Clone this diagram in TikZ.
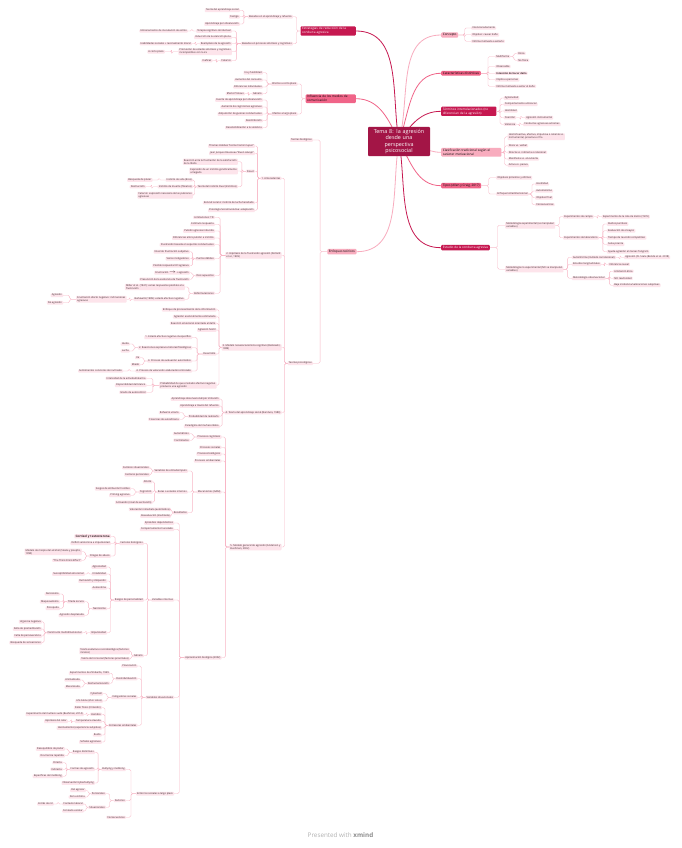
\documentclass[tikz,border=0pt]{standalone}
\usepackage{fontspec}
\setmainfont{Open Sans}
\usetikzlibrary{calc,backgrounds}

\definecolor{rootc}{RGB}{163,21,70}
\definecolor{darkc}{RGB}{198,24,80}
\definecolor{midc}{RGB}{240,100,136}
\definecolor{lightc}{RGB}{248,172,190}
\definecolor{leafc}{RGB}{253,228,235}
\definecolor{lnc}{RGB}{248,182,198}
\definecolor{txtc}{RGB}{60,40,45}

\tikzset{
  leaf/.style={fill=leafc,text=txtc,rounded corners=.8pt,inner xsep=1.1pt,inner ysep=.6pt,
    align=left,font=\fontsize{2.5}{3}\selectfont},
  L/.style={leaf,anchor=east},
  R/.style={leaf,anchor=west},
  mainbox/.style={rounded corners=1pt,inner xsep=1.6pt,inner ysep=1.2pt,align=left,
    font=\fontsize{3.1}{3.8}\selectfont},
  mainD/.style={mainbox,fill=darkc,text=white},
  mainM/.style={mainbox,fill=midc,text=black},
  mainL/.style={mainbox,fill=lightc,text=black},
  br/.style={draw=lnc,line width=.35pt,rounded corners=1.5pt},
  rl/.style={line width=.8pt},
}
% brackets: left-side and right-side children
\newcommand\lbr[2]{\foreach \ch in {#2}{\draw[br] (#1.west) -- ($(#1.west)!.5!(#1.west-|\ch.east)$) |- (\ch.east);}}
\newcommand\rbr[2]{\foreach \ch in {#2}{\draw[br] (#1.east) -- ($(#1.east)!.5!(#1.east-|\ch.west)$) |- (\ch.west);}}

\begin{document}
\begin{tikzpicture}[x=1pt,y=-1pt,line cap=round,line join=round]
\useasboundingbox (0,0) rectangle (681,848);

\node[fill=rootc,text=white,rounded corners=1pt,align=center,text width=58pt,inner sep=2pt,
  font=\fontsize{5.4}{6.6}\selectfont] (root) at (399,141.5)
  {Tema 8: la agresión\\desde una\\perspectiva\\psicosocial};

% ---- right side
\node[mainL,anchor=west] (conc) at (441,35) {Concepto};
\node[R] (inten) at (471,28) {Intencionadamente};
\node[R] (objd) at (471,34.7) {Objetivo: causar daño};
\node[R] (vict) at (471,41.3) {Víctima motivada a evitarlo};
\rbr{conc}{inten,objd,vict}

\node[mainM,anchor=west] (cara) at (441,73.3) {Características distintivas};
\node[R] (mult) at (495,56.5) {Multiforme};
\node[R] (obsv) at (495,66.5) {Observable};
\node[R,font=\fontsize{2.5}{3}\selectfont\bfseries] (intd) at (495,73.3) {Intención de hacer daño};
\node[R] (impl) at (495,79.7) {Implica a personas};
\node[R] (vmot) at (495,86.3) {Víctima motivada a evitar el daño};
\node[R] (fis) at (517,53.3) {Física};
\node[R] (nofis) at (517,60.2) {No física};
\rbr{cara}{mult,obsv,intd,impl,vmot}
\rbr{mult}{fis,nofis}

\node[mainD,anchor=west,text width=52pt] (term) at (441,111.3) {Términos interrelacionados (no\\diferencian de la agresión)};
\node[R] (agrv) at (503.5,98) {Agresividad};
\node[R] (cant) at (503.5,104.3) {Comportamiento antisocial};
\node[R] (host) at (503.5,111) {Hostilidad};
\node[R] (coer) at (503.5,117.7) {Coerción};
\node[R] (viol) at (503.5,124.3) {Violencia};
\node[R] (ains) at (525,117.7) {Agresión instrumental};
\node[R] (cae) at (523,124.3) {Conductas agresivas extremas};
\rbr{term}{agrv,cant,host,coer,viol}
\rbr{coer}{ains}
\rbr{viol}{cae}

\node[mainL,anchor=west,text width=57pt] (clas) at (441,152.3) {Clasificación tradicional según el\\carácter motivacional};
\node[R] (hrea) at (507.5,136.7) {Hostil/reactiva, afectiva, impulsiva o caliente vs.\\instrumental, proactiva o fría};
\node[R] (fvv) at (507.5,145.7) {Física vs. verbal};
\node[R] (dvi) at (507.5,152.3) {Directa vs. indirecta o relacional};
\node[R] (mve) at (507.5,159) {Manifiesta vs. encubierta};
\node[R] (avp) at (507.5,165.3) {Activa vs. pasiva};
\rbr{clas}{hrea,fvv,dvi,mve,avp}

\node[mainM,anchor=west] (tipo) at (441,185.7) {Tipos (Allen y Craig, 2017)};
\node[R] (objp) at (496,177.7) {Objetivos próximos y últimos};
\node[R] (enft) at (496,194) {Enfoque tetradimensional};
\node[R] (hos2) at (535,184) {Hostilidad};
\node[R] (autm) at (535,191) {Automatismo};
\node[R] (objf) at (535,197.7) {Objetivo final};
\node[R] (cnsq) at (535,204.7) {Consecuencias};
\rbr{tipo}{objp,enft}
\rbr{enft}{hos2,autm,objf,cnsq}

\node[mainD,anchor=west] (estu) at (441,247.7) {Estudio de la conducta agresiva};
\node[R] (mexp) at (505,225.3) {Metodología experimental (se manipulan\\variables)};
\node[R] (mnex) at (505,269.2) {Metodología no experimental (NO se manipulan\\variables)};
\node[R] (ecam) at (563,216.7) {Experimentos de campo};
\node[R] (elab) at (563,237.7) {Experimentos de laboratorio};
\node[R] (cola) at (601.7,216.7) {Experimento de la cola de metro (1976)};
\node[R] (ruid) at (606.7,224) {Ruidos punitivos};
\node[R] (evae) at (606.7,230.7) {Evaluación de ensayos};
\node[R] (trc) at (606.7,237.7) {Tiempo de reacción competitivo};
\node[R] (sals) at (606.7,244.3) {Salsa picante};
\node[R] (tang) at (606.7,251.7) {Ayuda-agresión en tareas Tangram};
\node[R] (auti) at (571.7,257.3) {Autoinforme (método correlacional)};
\node[R] (elon) at (571.7,264.3) {Estudios longitudinales};
\node[R] (mobs) at (571.7,278.3) {Metodología observacional};
\node[R] (clsc) at (624,257.3) {Agresión (CL Scale (Bondü et al. 2018)};
\node[R] (infc) at (608,264.3) {Inferencia causal};
\node[R] (leti) at (613,271.3) {Limitación ética};
\node[R] (nore) at (613,278.3) {NO reactividad};
\node[R] (baja) at (613,285.3) {Baja incidencia/valoraciones subjetivas};
\rbr{estu}{mexp,mnex}
\rbr{mexp}{ecam,elab}
\rbr{ecam}{cola}
\rbr{elab}{ruid,evae,trc,sals,tang}
\rbr{mnex}{auti,elon,mobs}
\rbr{auti}{clsc}
\rbr{elon}{infc}
\rbr{mobs}{leti,nore,baja}

% ---- left side
\node[mainD,anchor=east,text width=52pt] (estr) at (356,31) {Estrategias de reducción de la\\conducta agresiva};
\node[L] (apr) at (293,16.7) {Basadas en el aprendizaje y refuerzo};
\node[L] (afc) at (293,43.7) {Basadas en procesos afectivos y cognitivos};
\node[L] (tas) at (240,10.3) {Teoría del aprendizaje social};
\node[L] (cas) at (240,16.7) {Castigo};
\node[L] (apo) at (240,24) {Aprendizaje por observación};
\node[L] (tcc) at (232,31) {Terapia cognitivo-conductual};
\node[L] (aten) at (232,37.3) {Inducción de la atención plena};
\node[L] (reem) at (232,43.7) {Reemplazo de la agresión};
\node[L] (prom) at (232,51.7) {Promoción de estados afectivos y cognitivos\\incompatibles con la ira};
\node[L] (cat) at (232,60.7) {Catarsis};
\node[L] (ino) at (188,31) {Entrenamiento de inoculación de estrés};
\node[L] (hab) at (192,43.7) {Habilidades sociales + razonamiento moral};
\node[L] (corto) at (165,51.7) {A corto plazo};
\node[L] (inef) at (212.7,60.7) {Ineficaz};
\lbr{estr}{apr,afc}
\lbr{apr}{tas,cas,apo}
\lbr{afc}{tcc,aten,reem,prom,cat}
\lbr{tcc}{ino}
\lbr{reem}{hab}
\lbr{prom}{corto}
\lbr{cat}{inef}

\node[mainM,anchor=east,text width=47pt] (infl) at (356,98.7) {Influencia de los medios de\\comunicación};
\node[L] (ecp) at (297.7,84) {Efectos a corto plazo};
\node[L] (elp) at (297.7,114) {Efectos a largo plazo};
\node[L] (irah) at (263,72.7) {Ira y hostilidad};
\node[L] (aumc) at (263,80) {Aumento del consumo};
\node[L] (difi) at (263,87) {Diferencias individuales};
\node[L] (gen1) at (263,93.7) {Género};
\node[L] (prot) at (245,93.7) {Efecto Proteus};
\node[L] (fap) at (263,100) {Fuente de aprendizaje por observación};
\node[L] (acog) at (263,107) {Aumento de cogniciones agresivas};
\node[L] (guio) at (263,114) {Adquisición de guiones conductuales};
\node[L] (desn) at (263,120.7) {Desinhibición};
\node[L] (dsen) at (263,127.7) {Desensibilización a la violencia};
\lbr{infl}{ecp,elp}
\lbr{ecp}{irah,aumc,difi,gen1}
\lbr{gen1}{prot}
\lbr{elp}{fap,acog,guio,desn,dsen}

\node[mainL,anchor=east] (enfo) at (356.7,251.7) {Enfoques teóricos};
\node[L] (tbio) at (313,140) {Teorías biológicas};
\node[L] (tpsi) at (313,363.3) {Teorías psicológicas};
\lbr{enfo}{tbio,tpsi}

\node[L] (ante) at (281.7,178.3) {1. Antecedentes};
\node[L] (frus) at (281.7,255.3) {2. Hipótesis de la frustración agresión (Dollard\\et al., 1939)};
\node[L] (neoa) at (281.7,347.3) {3. Modelo neoasociacionista cognitivo (Berkowitz,\\1989)};
\node[L] (tapr) at (281.7,412.5) {4. Teoría del aprendizaje social (Bandura, 1983)};
\node[L] (mgen) at (281.7,547) {5. Modelo general de agresión (Anderson y\\Bushman, 2002)};
\lbr{tpsi}{ante,frus,neoa,tapr,mgen}

% 1. Antecedentes
\node[L] (hobb) at (255,146) {Thomas Hobbes “Homo homini lupus”};
\node[L] (rous) at (255,153.3) {Jean Jacques Rousseau “Buen salvaje”};
\node[L] (freu) at (255,171.3) {Freud};
\node[L] (lore) at (255,202.7) {Konrad Lorenz: instinto de lucha heredado};
\node[L] (psev) at (255,210.3) {Psicología Social Evolutiva: adaptación};
\node[L] (reac) at (238,161.8) {Reacción ante la frustración de la satisfacción\\de la libido};
\node[L] (expr) at (238,171) {Expresión de un instinto genéticamente\\arraigado};
\node[L] (dual) at (238,186.7) {Teoría del instinto Dual (Instintos)};
\node[L] (vida) at (193,180) {Instinto de vida (Eros)};
\node[L] (muer) at (193,186.7) {Instinto de muerte (Tánatos)};
\node[L] (ctrs) at (193,195.2) {Catarsis: expresión necesaria de las pulsiones\\agresivas};
\node[L] (plac) at (152.7,180) {Búsqueda de placer};
\node[L] (dest) at (146,186.7) {Destrucción};
\lbr{ante}{hobb,rous,freu,lore,psev}
\lbr{freu}{reac,expr,dual}
\lbr{dual}{vida,muer,ctrs}
\lbr{vida}{plac}
\lbr{muer}{dest}

% 2. Frustracion
\node[L] (limi) at (215,217.3) {Limitaciones: TD};
\node[L] (estm) at (215,224.3) {Estímulo respuesta};
\node[L] (puls) at (215,231) {Pulsión agresiva inducida};
\node[L] (dife) at (215,238) {Diferencias entre pulsión e instinto};
\node[L] (fcon) at (215,244.7) {Frustración basada en aspectos conductuales};
\node[L] (pdeb) at (215,258.7) {Puntos débiles};
\node[L] (dsup) at (215,275.7) {Dos supuestos};
\node[L] (refo) at (215,293.3) {Reformulaciones};
\node[L] (nfsu) at (190,251.7) {Nivel de frustración subjetivo};
\node[L] (vins) at (190,258.7) {Varios instigadores};
\node[L] (pnoa) at (190,265.7) {Posible respuesta NO agresiva};
\node[L] (fagr) at (190,272.7) {Frustración $\rightarrow$ + agresión};
\node[L] (pres) at (190,279.3) {Presunción de la existencia de frustración};
\node[L] (mill) at (185,287) {Miller et al. (1941): varias respuestas posibles a la\\frustración};
\node[L] (berk) at (185,299.3) {Berkowitz (1989): estado afectivo negativo};
\node[L] (fane) at (126.7,299.3) {Frustración afecto negativo: inclinaciones\\agresivas};
\node[L] (agsi) at (63.3,295.3) {Agresión};
\node[L] (agno) at (63.3,302.7) {No agresión};
\lbr{frus}{limi,estm,puls,dife,fcon,pdeb,dsup,refo}
\lbr{pdeb}{nfsu,vins,pnoa}
\lbr{dsup}{fagr,pres}
\lbr{refo}{mill,berk}
\lbr{berk}{fane}
\lbr{fane}{agsi,agno}

% 3. Neoasociacionista
\node[L] (epro) at (216.7,309.7) {Enfoque de procesamiento de la información};
\node[L] (aest) at (216.7,316.7) {Agresión esencialmente estimulada};
\node[L] (remo) at (216.7,323.3) {Reacción emocional orientada al daño};
\node[L] (ahos) at (216.7,330) {Agresión hostil};
\node[L] (desa) at (216.7,354) {Desarrollo};
\node[L] (prob) at (216.7,385.2) {Probabilidad de que el estado afectivo negativo\\produzca una agresión};
\node[L] (dun) at (192.3,337.3) {1. Estado afectivo negativo inespecífico};
\node[L] (ddos) at (192.3,347.7) {2. Reacciones expresivo-motoras/fisiológicas};
\node[L] (dtre) at (192.3,361) {3. Proceso de evaluación automático};
\node[L] (dcua) at (192.3,371) {4. Proceso de valoración elaborado/controlado};
\node[L] (huid) at (130,344) {Huida};
\node[L] (luch) at (130,351) {Lucha};
\node[L] (irad) at (140.5,357.7) {Ira};
\node[L] (mied) at (140.5,364.7) {Miedo};
\node[L] (sent) at (123.3,371) {Sentimientos concretos de ira/miedo};
\node[L] (inta) at (146.7,378.3) {Intensidad de la actividad/alarma};
\node[L] (disb) at (146.7,385.3) {Disponibilidad del blanco};
\node[L] (gaut) at (146.7,392.3) {Grado de autocontrol};
\lbr{neoa}{epro,aest,remo,ahos,desa,prob}
\lbr{desa}{dun,ddos,dtre,dcua}
\lbr{ddos}{huid,luch}
\lbr{dtre}{irad,mied}
\lbr{dcua}{sent}
\lbr{prob}{inta,disb,gaut}

% 4. Aprendizaje social
\node[L] (aobs) at (220,399) {Aprendizaje observacional/por imitación};
\node[L] (aref) at (220,406) {Aprendizaje a través del refuerzo};
\node[L] (prea) at (220,416.3) {Probabilidad de realizarlo};
\node[L] (bobo) at (220,426.3) {Paradigma del muñeco Bobo};
\node[L] (rvic) at (180,412.7) {Refuerzo vicario};
\node[L] (caut) at (180,419.3) {Creencias de autoeficacia};
\lbr{tapr}{aobs,aref,prea,bobo}
\lbr{prea}{rvic,caut}

% 5. Modelo general
\node[L] (pcog) at (221.7,437) {Procesos cognitivos};
\node[L] (psoc) at (221.7,447.3) {Procesos sociales};
\node[L] (pbio) at (221.7,454) {Procesos biológicos};
\node[L] (pamb) at (221.7,461) {Procesos ambientales};
\node[L] (meca) at (221.7,492) {Mecanismos (GAM)};
\node[L] (apbi) at (221.7,657.7) {Aproximación biológica (2002)};
\node[L] (auto) at (190,433.7) {Automáticos};
\node[L] (cont) at (190,440.3) {Controlados};
\node[L] (vent) at (188,471) {Variables de entrada/inputs};
\node[L] (ruta) at (188,492) {Rutas o estados internos};
\node[L] (resu) at (188,512.7) {Resultados};
\node[L] (fsit) at (150,467.7) {Factores situacionales};
\node[L] (fper) at (150,474.7) {Factores personales};
\node[L] (afec) at (152.7,481.7) {Afecto};
\node[L] (cogn) at (152.7,492) {Cognición};
\node[L] (acti) at (152.7,502.3) {Activación (nivel de excitación)};
\node[L] (sesg) at (131,488.7) {Sesgos de atribución hostiles};
\node[L] (prim) at (131,495.3) {Priming agresivo};
\node[L] (vinm) at (171,509.3) {Valoración inmediata (automática)};
\node[L] (reev) at (171,516) {Reevaluación (meditada)};
\lbr{mgen}{pcog,psoc,pbio,pamb,meca,apbi}
\lbr{pcog}{auto,cont}
\lbr{meca}{vent,ruta,resu}
\lbr{vent}{fsit,fper}
\lbr{ruta}{afec,cogn,acti}
\lbr{cogn}{sesg,prim}
\lbr{resu}{vinm,reev}

% aproximacion
\node[L] (epis) at (174.3,523) {Episodios dependientes};
\node[L] (cher) at (174.3,529.3) {Comportamiento heredado};
\node[L] (vint) at (174.3,600) {Variables internas};
\node[L] (vsit) at (174.3,697.3) {Variables situacionales};
\node[L] (ents) at (174.3,793.7) {Entornos sociales a largo plazo};
\lbr{apbi}{epis,cher,vint,vsit,ents}

\node[L] (fbio) at (144,543.3) {Factores biológicos};
\node[L] (rasg) at (144,600) {Rasgos de personalidad};
\node[L] (gen2) at (144,655.7) {Género};
\node[L,font=\fontsize{3}{3.6}\selectfont\bfseries] (cort) at (111,536.3) {Cortisol y testosterona};
\node[L] (defi) at (111,543.3) {Déficit serotonina e impulsividad};
\node[L] (drog) at (111,556) {Drogas de abuso};
\node[L] (miop) at (82,551.8) {Modelo de miopía del alcohol (Steele y Josephs,\\1990)};
\node[L] (thin) at (82,560.3) {“The Think Drink Effect”};
\node[L] (agrs) at (107.3,567) {Agresividad};
\node[L] (irri) at (107.3,574) {Irritabilidad};
\node[L] (rumi) at (107.3,581) {Rumiación y disipación};
\node[L] (aute) at (107.3,588) {Autoestima};
\node[L] (narc) at (107.3,608.7) {Narcisismo};
\node[L] (impu) at (107.3,632.7) {Impulsividad};
\node[L] (susc) at (85,574) {Susceptibilidad emocional};
\node[L] (tria) at (85,601.7) {Tríada oscura};
\node[L] (ades) at (85,615.3) {Agresión desplazada};
\node[L] (narb) at (60,594) {Narcisismo};
\node[L] (maqu) at (60,601.7) {Maquiavelismo};
\node[L] (psic) at (60,608.3) {Psicopatía};
\node[L] (cmul) at (82.7,632.7) {Constructo multidimensional};
\node[L] (urge) at (42,621.7) {Urgencia negativa};
\node[L] (fpre) at (42,629) {Falta de premeditación};
\node[L] (fper2) at (42,636) {Falta de perseverancia};
\node[L] (bsen) at (42,642.7) {Búsqueda de sensaciones};
\node[L] (tevo) at (130,651) {Teoría evolutiva o sociobiológica (factores\\innatos)};
\node[L] (trol) at (130,659) {Teoría del rol social (factores proximales)};
\lbr{vint}{fbio,rasg,gen2}
\lbr{fbio}{cort,defi,drog}
\lbr{drog}{miop,thin}
\lbr{rasg}{agrs,irri,rumi,aute,narc,impu}
\lbr{irri}{susc}
\lbr{narc}{tria,ades}
\lbr{tria}{narb,maqu,psic}
\lbr{impu}{cmul}
\lbr{cmul}{urge,fpre,fper2,bsen}
\lbr{gen2}{tevo,trol}

\node[L] (prov) at (137.7,666) {Provocación};
\node[L] (desi) at (137.7,678.7) {Desindividuación};
\node[L] (inst) at (137.7,697.3) {Instigadores sociales};
\node[L] (estm2) at (137.7,725.3) {Estresores ambientales};
\node[L] (zimb) at (110,673.3) {Experimentos de Zimbardo, 1969};
\node[L] (desh) at (110,683.3) {Deshumanización};
\node[L] (anim) at (81,680) {Animalizada};
\node[L] (mecz) at (81,687) {Mecanizada};
\node[L] (cybe) at (103,693.7) {Cyberball};
\node[L] (lifa) at (103,701) {Life Alone (Vivir solos)};
\node[L] (dolo) at (102,707.7) {Dolor físico (irritación)};
\node[L] (hamb) at (102,714.3) {Hambre};
\node[L] (temp) at (102,721.3) {Temperatura elevada};
\node[L] (haci) at (102,728) {Hacinamiento (experiencia subjetiva)};
\node[L] (ruido) at (102,735) {Ruido};
\node[L] (sena) at (102,742) {Señales agresivas};
\node[L] (vudu) at (84,714.3) {Experimento del muñeco vudú (Bushman, 2014)};
\node[L] (hcal) at (68,721.3) {Hipótesis del calor};
\lbr{vsit}{prov,desi,inst,estm2}
\lbr{desi}{zimb,desh}
\lbr{desh}{anim,mecz}
\lbr{inst}{cybe,lifa}
\lbr{estm2}{dolo,hamb,temp,haci,ruido,sena}
\lbr{hamb}{vudu}
\lbr{temp}{hcal}

\node[L] (bull) at (126,769.3) {Bullying y mobbing};
\node[L] (fact) at (126,800.7) {Factores};
\node[L] (csec) at (126,817.3) {Consecuencias};
\node[L] (rdis) at (95,752.3) {Rasgos distintivos};
\node[L] (fags) at (95,769.3) {Formas de agresión};
\node[L] (obcy) at (95,783) {Observación/cyberbullying};
\node[L] (dpod) at (65,749) {Desequilibrio de poder};
\node[L] (ocur) at (65,755.7) {Ocurrencia repetida};
\node[L] (dire) at (63,762.7) {Directa};
\node[L] (indi) at (63,769.3) {Indirecta};
\node[L] (espm) at (63,776.3) {Específicas del mobbing};
\node[L] (pers) at (106,793.7) {Personales};
\node[L] (situ) at (106,807.3) {Situacionales};
\node[L] (dagr) at (86,790.3) {Del agresor};
\node[L] (dvic) at (86,797) {De la víctima};
\node[L] (clab) at (84,804) {Contexto laboral};
\node[L] (cesc) at (84,811) {Contexto escolar};
\node[L] (erol) at (54,804) {Estrés de rol};
\lbr{ents}{bull,fact,csec}
\lbr{bull}{rdis,fags,obcy}
\lbr{rdis}{dpod,ocur}
\lbr{fags}{dire,indi,espm}
\lbr{fact}{pers,situ}
\lbr{pers}{dagr,dvic}
\lbr{situ}{clab,cesc}
\lbr{clab}{erol}

% ---- branches from the root
\begin{scope}[on background layer]
  \fill[white] (0,0) rectangle (681,848);
  \draw[rl,lightc] (root.center) to[out=75,in=180] (conc.west);
  \draw[rl,midc] (root.center) to[out=70,in=180] (cara.west);
  \draw[rl,darkc] (root.center) to[out=55,in=180] (term.west);
  \draw[rl,lightc] (root.center) to[out=0,in=180] (clas.west);
  \draw[rl,midc] (root.center) to[out=-60,in=180] (tipo.west);
  \draw[rl,darkc] (root.center) to[out=-80,in=180] (estu.west);
  \draw[rl,darkc] (root.center) to[out=100,in=0] (estr.east);
  \draw[rl,midc] (root.center) to[out=115,in=0] (infl.east);
  \draw[rl,lightc] (root.center) to[out=-100,in=0] (enfo.east);
\end{scope}

\node[text=black!30,font=\fontsize{6.3}{7}\selectfont] (brand) at (340.5,834.7)
  {Presented with \textcolor{black!45}{\bfseries xmind}};
\end{tikzpicture}
\end{document}
